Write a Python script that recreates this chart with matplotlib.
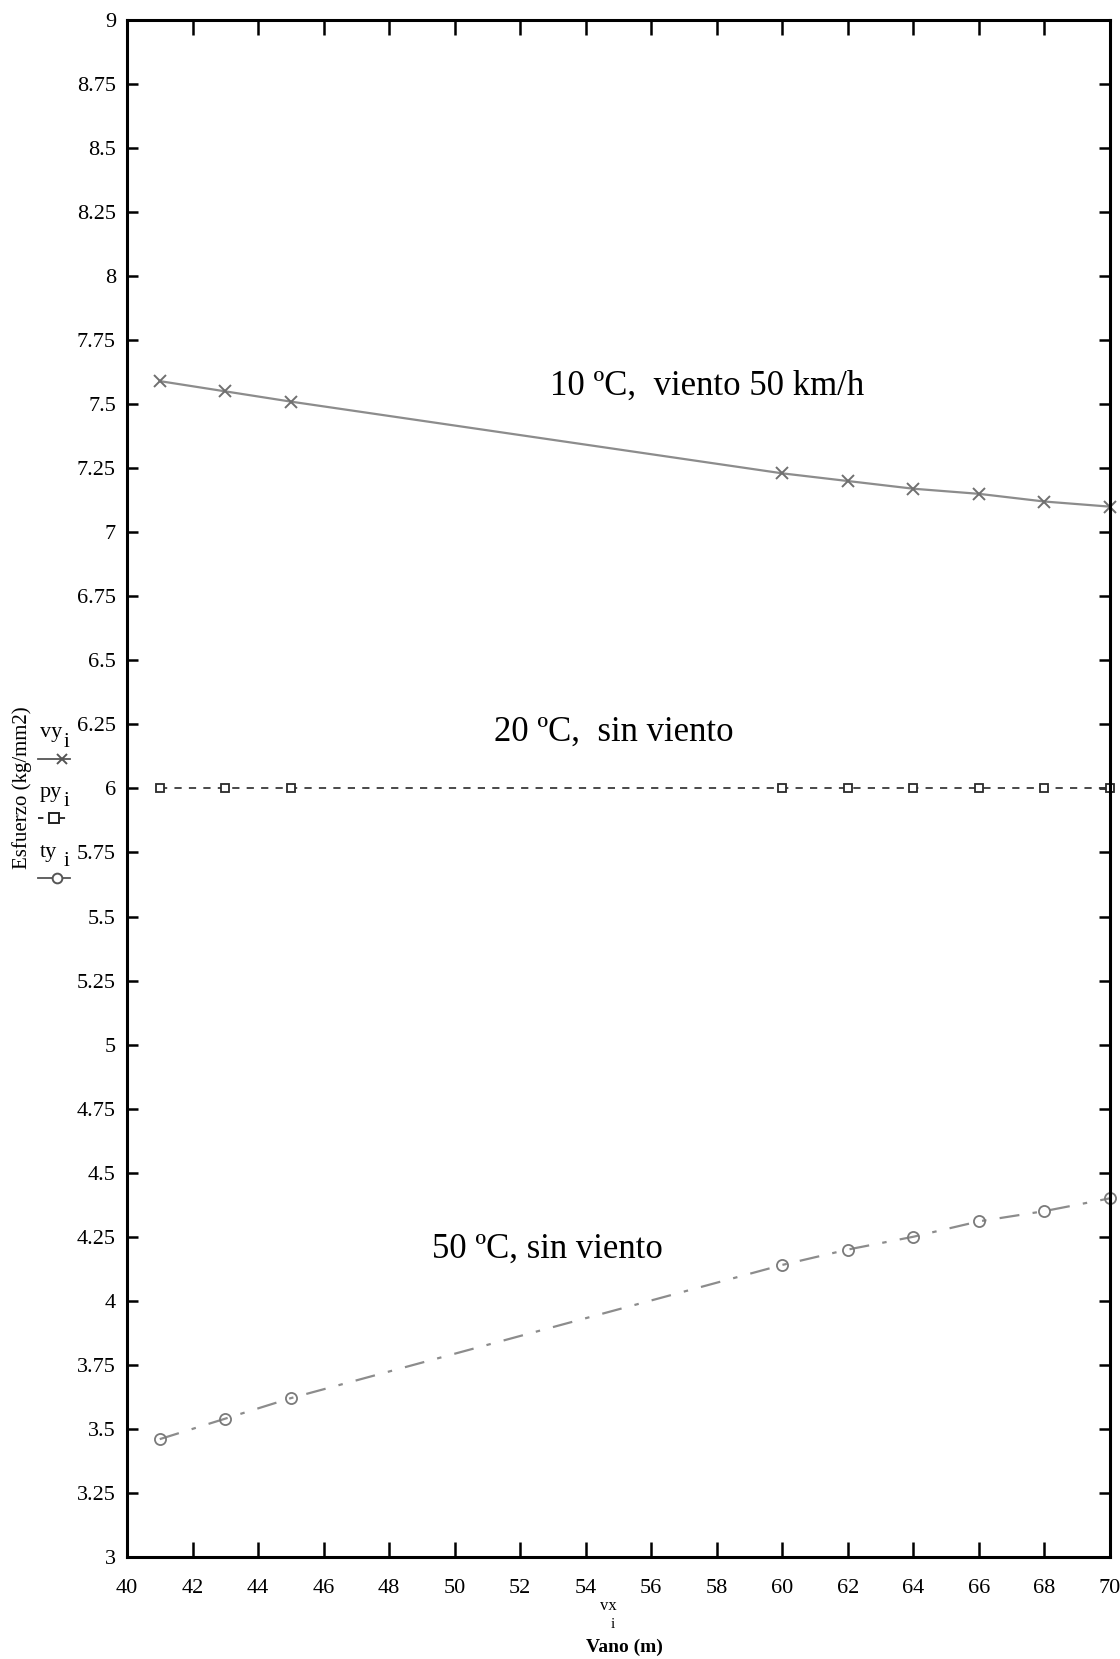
import matplotlib.pyplot as plt

# span values (m) and stresses (kg/mm2)
vano = [41, 43, 45, 60, 62, 64, 66, 68, 70]
vy = [7.59, 7.55, 7.51, 7.23, 7.20, 7.17, 7.15, 7.12, 7.10]   # 10 ºC, viento 50 km/h
py = [6.0, 6.0, 6.0, 6.0, 6.0, 6.0, 6.0, 6.0, 6.0]            # 20 ºC, sin viento
ty = [3.46, 3.54, 3.62, 4.14, 4.20, 4.25, 4.31, 4.35, 4.40]    # 50 ºC, sin viento

xticks = list(range(40, 71, 2))
yticks = [3 + 0.25 * k for k in range(25)]

plt.rcParams['font.family'] = ['Liberation Serif', 'DejaVu Serif']

fig = plt.figure(figsize=(11.2, 16.59), dpi=100)
ax = fig.add_axes([0.1134, 0.0615, 0.8776, 0.9265])

ax.plot(vano, vy, color='#8c8c8c', lw=1.6, marker='x', ms=9, mew=1.4,
        mec='#707070', clip_on=False)
ax.plot(vano, py, color='#3a3a3a', lw=1.3, ls=(0, (4, 4)), marker='s', ms=6,
        mfc='white', mec='#2a2a2a', mew=1.3, clip_on=False)
ax.plot(vano, ty, color='#8c8c8c', lw=1.6, ls=(0, (9, 6, 2, 6)), marker='o',
        ms=8, mfc='none', mec='#7a7a7a', mew=1.3, clip_on=False)

ax.set_xlim(40, 70)
ax.set_ylim(3, 9)
ax.set_xticks(xticks)
ax.set_yticks(yticks)
ax.set_xticklabels([str(v) for v in xticks])
ax.set_yticklabels(['%g' % v for v in yticks])
ax.tick_params(axis='both', direction='in', top=True, right=True,
               labelsize=16, width=1.8, color='black')
ax.tick_params(axis='x', length=11, pad=16)
ax.tick_params(axis='y', length=8, pad=8)
for s in ax.spines.values():
    s.set_linewidth(2.2)

# curve labels
ax.text(52.9, 7.57, '10 ºC,  viento 50 km/h', fontsize=25, va='center')
ax.text(51.2, 6.22, '20 ºC,  sin viento', fontsize=25, va='center')
ax.text(49.3, 4.20, '50 ºC, sin viento', fontsize=25, va='center')

# Mathcad-style axis labels
fig.text(22 / 1120, 1 - 788 / 1659, 'Esfuerzo (kg/mm2)', rotation=90,
         fontsize=15, ha='center', va='center')
leg = [('vy', 733, 'x', '-', '#555555', 0.75),
       ('py', 792, 's', (0, (3, 3)), '#222222', 0.5),
       ('ty', 852, 'o', '-', '#555555', 0.6)]
for name, yp, mk, ls, c, mx in leg:
    fig.text(40 / 1120, 1 - yp / 1659, name, fontsize=16,
             ha='left', va='center')
    fig.text(66 / 1120, 1 - (yp + 10) / 1659, 'i', fontsize=15,
             ha='center', va='center')
    ly = 1 - (yp + 26) / 1659
    x0, x1 = 38 / 1120, 70 / 1120
    fig.add_artist(plt.Line2D([x0, x1], [ly, ly], color=c, lw=1.3, ls=ls))
    fig.add_artist(plt.Line2D([x0 + mx * (x1 - x0)], [ly], marker=mk, ms=7,
                              mfc='white', mec=c, mew=1.4, ls='none'))

fig.text(608 / 1120, 1 - 1606 / 1659, 'vx', fontsize=12,
         ha='center', va='center')
fig.text(613 / 1120, 1 - 1625 / 1659, 'i', fontsize=11,
         ha='center', va='center')
fig.text(624 / 1120, 1 - 1647 / 1659, 'Vano (m)', fontsize=14,
         fontweight='bold', ha='center', va='center')

fig.savefig('out.png', dpi=100)
